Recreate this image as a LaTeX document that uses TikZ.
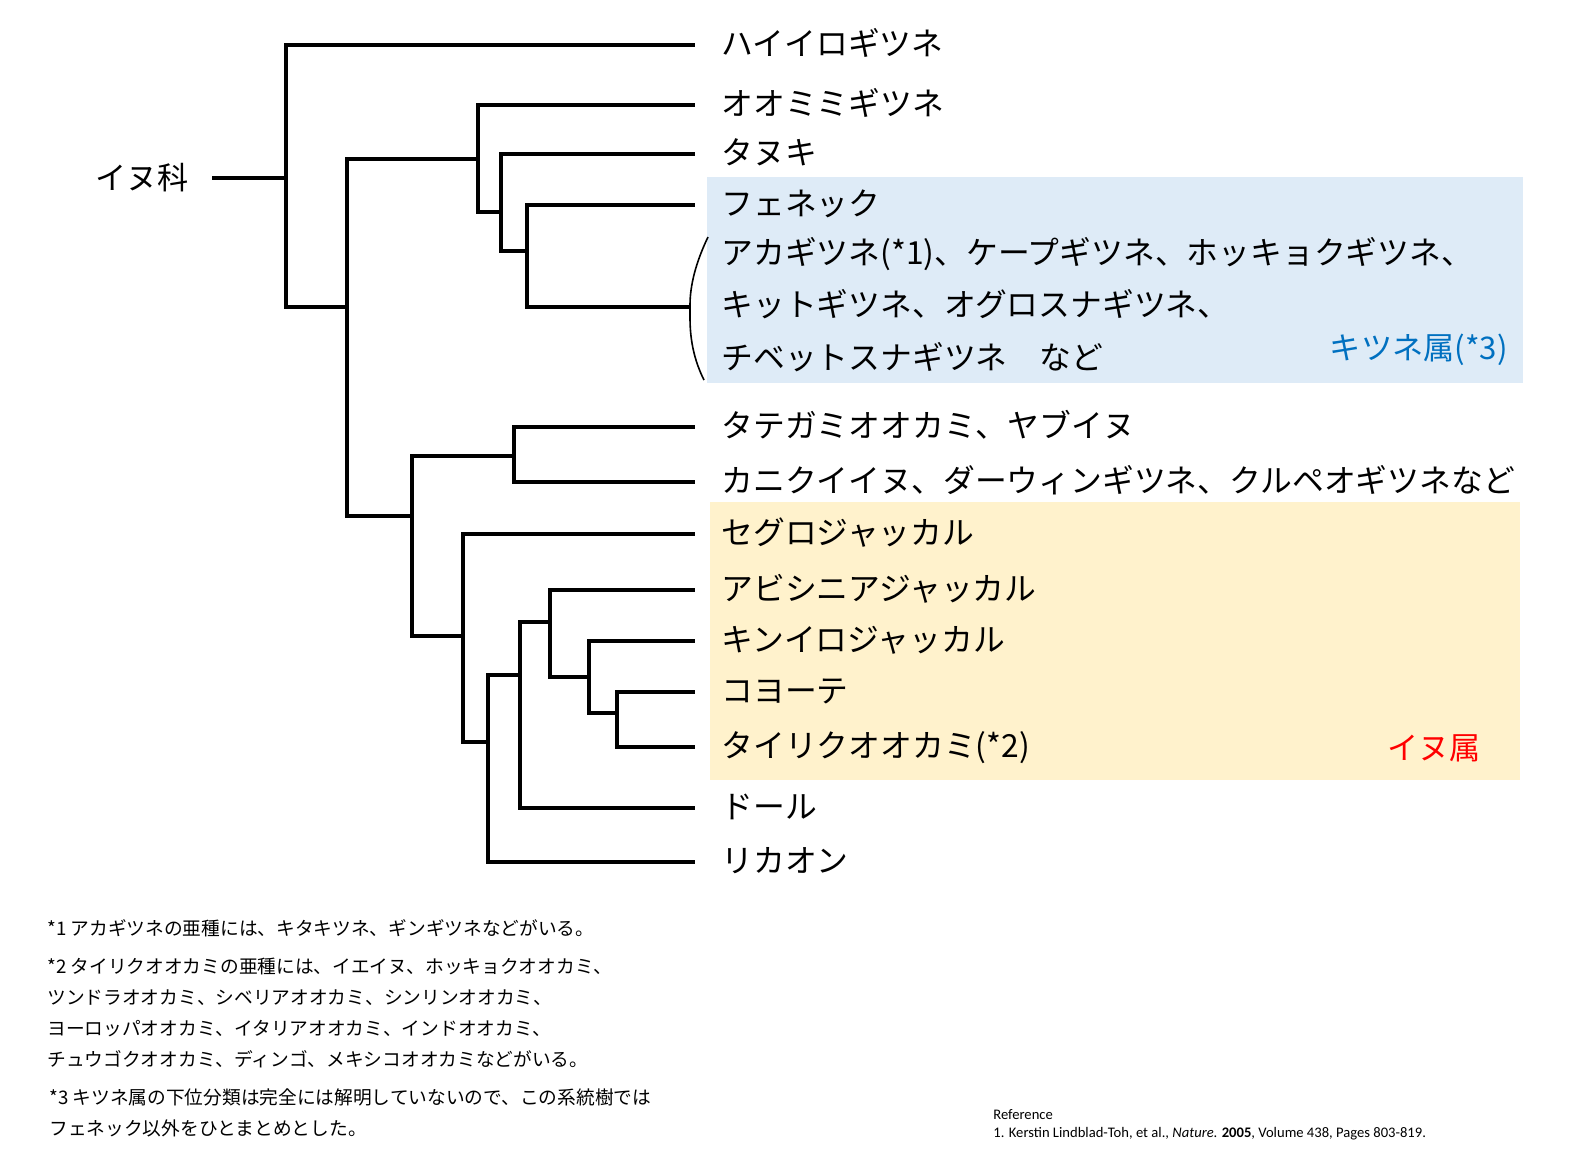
\documentclass[tikz,border=0pt]{standalone}
\usepackage{fontspec}
\setmainfont{Noto Sans CJK JP}
\newfontfamily\reffont{Carlito}
\usetikzlibrary{positioning}
\definecolor{foxbox}{HTML}{DEEBF7}
\definecolor{dogbox}{HTML}{FFF2CC}
\definecolor{foxtext}{HTML}{0070C0}

\begin{document}
\begin{tikzpicture}[x=0.5pt, y=-0.5pt,
        branch/.style={draw, line width=2pt, line join=miter},
        leaf/.style={anchor=west, inner xsep=13pt, inner ysep=0pt, text height=13pt, text depth=3pt, font=\fontsize{15.9pt}{18pt}\selectfont},
        group/.style={anchor=east, inner sep=0pt, font=\fontsize{15.6pt}{18pt}\selectfont},
        note/.style={anchor=west, align=left, inner sep=0pt, font=\fontsize{9.35pt}{15.5pt}\selectfont}]

        \useasboundingbox (0,0) rectangle (1578,1164);
        \fill[white] (0,0) rectangle (1578,1164);

        % genus boxes
        \fill[foxbox] (707,177) rectangle (1523,383);
        \fill[dogbox] (710,502) rectangle (1520,780);

        \node[group, anchor=east] (family) at (189,178) {イヌ科};

        % leaves
        \node[leaf] (hai) at (695,45) {ハイイロギツネ};
        \node[leaf] (oomimi) at (695,105) {オオミミギツネ};
        \node[leaf] (tanuki) at (695,154) {タヌキ};
        \node[leaf] (fennec) at (695,205) {フェネック};
        \node[leaf] (akagitsune) at (695,254) {アカギツネ(*1)、ケープギツネ、ホッキョクギツネ、};
        \node[leaf] (kitgitsune) at (695,306) {キットギツネ、オグロスナギツネ、};
        \node[leaf] (tibet) at (695,359) {チベットスナギツネ　など};
        \node[leaf] (tategami) at (695,427) {タテガミオオカミ、ヤブイヌ};
        \node[leaf] (kanikui) at (695,482) {カニクイイヌ、ダーウィンギツネ、クルペオギツネなど};
        \node[leaf] (seguro) at (695,534) {セグロジャッカル};
        \node[leaf] (abyssinia) at (695,590) {アビシニアジャッカル};
        \node[leaf] (kiniro) at (695,641) {キンイロジャッカル};
        \node[leaf] (coyote) at (695,692) {コヨーテ};
        \node[leaf] (wolf) at (695,747) {タイリクオオカミ(*2)};
        \node[leaf] (dhole) at (695,808) {ドール};
        \node[leaf] (lycaon) at (695,862) {リカオン};

        \node[group, text=foxtext] (vulpes) at (1508,350) {キツネ属(*3)};
        \node[group, text=red] (canis) at (1481,748) {イヌ属};

        % junctions
        \coordinate (canid) at (286,178);
        \coordinate (core) at (347,307);
        \coordinate (foxclade) at (478,159);
        \coordinate (tanukiclade) at (501,212);
        \coordinate (vulpesclade) at (527,251);
        \coordinate (brace) at (689,307);
        \coordinate (dogclade) at (412,516);
        \coordinate (southam) at (514,456);
        \coordinate (jackals) at (463,636);
        \coordinate (wolflike) at (488,742);
        \coordinate (dholeclade) at (520,675);
        \coordinate (abyclade) at (550,622);
        \coordinate (kinclade) at (589,677);
        \coordinate (coyoteclade) at (617,713);

        \draw[branch] ([xshift=11.5pt]family.east) -- (canid);
        \draw[branch] (canid) |- (hai.west);
        \draw[branch] (canid) |- (core);
        \draw[branch] (core) |- (foxclade);
        \draw[branch] (core) |- (dogclade);
        \draw[branch] (foxclade) |- (oomimi.west);
        \draw[branch] (foxclade) |- (tanukiclade);
        \draw[branch] (tanukiclade) |- (tanuki.west);
        \draw[branch] (tanukiclade) |- (vulpesclade);
        \draw[branch] (vulpesclade) |- (fennec.west);
        \draw[branch] (vulpesclade) |- (brace);
        \draw[branch] (dogclade) |- (southam);
        \draw[branch] (dogclade) |- (jackals);
        \draw[branch] (southam) |- (tategami.west);
        \draw[branch] (southam) |- (kanikui.west);
        \draw[branch] (jackals) |- (seguro.west);
        \draw[branch] (jackals) |- (wolflike);
        \draw[branch] (wolflike) |- (dholeclade);
        \draw[branch] (wolflike) |- (lycaon.west);
        \draw[branch] (dholeclade) |- (abyclade);
        \draw[branch] (dholeclade) |- (dhole.west);
        \draw[branch] (abyclade) |- (abyssinia.west);
        \draw[branch] (abyclade) |- (kinclade);
        \draw[branch] (kinclade) |- (kiniro.west);
        \draw[branch] (kinclade) |- (coyoteclade);
        \draw[branch] (coyoteclade) |- (coyote.west);
        \draw[branch] (coyoteclade) |- (wolf.west);

        % brace round the fox lines
        \draw[line width=0.8pt] (708,237) .. controls (696,262) and (690,285) .. (690,305)
            -- (690,318) .. controls (690,342) and (695,362) .. (704,380);

        % notes
        \node[note] (note1) at (47,928) {*1 アカギツネの亜種には、キタキツネ、ギンギツネなどがいる。};
        \node[note] (note2) at (47,1013) {*2 タイリクオオカミの亜種には、イエイヌ、ホッキョクオオカミ、\\ツンドラオオカミ、シベリアオオカミ、シンリンオオカミ、\\ヨーロッパオオカミ、イタリアオオカミ、インドオオカミ、\\チュウゴクオオカミ、ディンゴ、メキシコオオカミなどがいる。};
        \node[note] (note3) at (49,1113) {*3 キツネ属の下位分類は完全には解明していないので、この系統樹では\\フェネック以外をひとまとめとした。};

        \node[anchor=west, align=left, inner sep=0pt, font=\reffont\fontsize{7.3pt}{9pt}\selectfont] (ref) at (993,1125)
            {Reference\\1. Kerstin Lindblad-Toh, et al., \textit{Nature}. \textbf{2005}, Volume 438, Pages 803-819.};
    \end{tikzpicture}
\end{document}
